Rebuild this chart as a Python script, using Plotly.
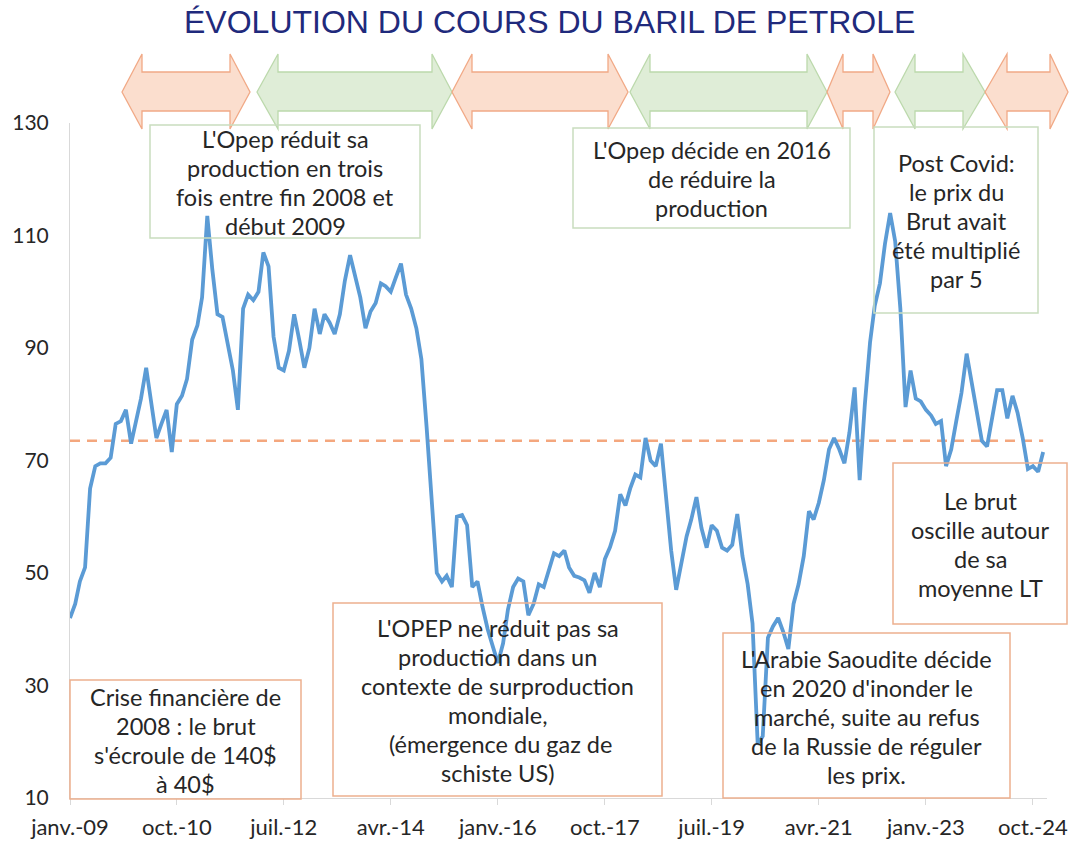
import plotly.graph_objects as go
import pandas as pd

# ---------------- DATA ----------------
price_2009 = [42, 44.5, 48.5, 51, 65, 69, 69.5, 69.5, 70.5, 76.5, 77, 79]
price_2010 = [73, 77, 81, 86.5, 80, 74, 76.5, 79, 71.5, 80, 81.5, 84.5]
price_2011 = [91.5, 94, 99, 113.5, 104, 96, 95.5, 91, 86, 79, 97, 99.5]
price_2012 = [98.5, 100, 107, 104.5, 92, 86.5, 86, 89.5, 96, 91.5, 86.5, 90]
price_2013 = [97, 92.5, 96, 94.5, 92.5, 96, 102, 106.5, 103, 99, 93.5, 96.5]
price_2014 = [98, 101.5, 101, 100, 102.5, 105, 99.5, 97, 93.5, 88, 76, 62]
price_2015 = [50, 48.5, 49.5, 47.5, 60, 60.3, 58.5, 47.5, 48.5, 44, 40, 37]
price_2016 = [34, 37.5, 43.5, 47.5, 49, 48.5, 42.5, 44.5, 48, 47.5, 50.5, 53.5]
price_2017 = [53, 54, 51, 49.5, 49.2, 48.7, 46.5, 50, 47.5, 52.5, 54.6, 57.5]
price_2018 = [64, 62, 65, 67.5, 67, 74, 70, 69, 73, 64, 54, 47]
price_2019 = [51.5, 56.5, 59.5, 63.5, 58, 54.5, 58.5, 57.5, 54.5, 54, 55, 60.5]
price_2020 = [53, 48, 41, 19.5, 21, 38.5, 40.5, 42, 39.5, 36.5, 44.5, 48]
price_2021 = [53, 61, 59.5, 62.5, 66.5, 72, 74, 72, 69.5, 75, 83, 66.5]
price_2022 = [80, 91, 97.5, 101.5, 108.5, 114, 109, 97, 79.5, 86, 81, 80.5]
price_2023 = [79, 78, 76.5, 77, 69, 72, 77, 82, 89, 84, 78, 73.5]
price_2024 = [72.5, 77.5, 82.5, 82.5, 77.5, 81.5, 78.5, 74, 68.5, 69, 68, 71.5]

prices = (price_2009 + price_2010 + price_2011 + price_2012 + price_2013 + price_2014
          + price_2015 + price_2016 + price_2017 + price_2018 + price_2019 + price_2020
          + price_2021 + price_2022 + price_2023 + price_2024)
months = pd.date_range("2009-01-01", periods=len(prices), freq="MS")

mean_price = 73.5

tick_dates = ["2009-01-01", "2010-10-01", "2012-07-01", "2014-04-01", "2016-01-01",
              "2017-10-01", "2019-07-01", "2021-04-01", "2023-01-01", "2024-10-01"]
tick_labels = ["janv.-09", "oct.-10", "juil.-12", "avr.-14", "janv.-16",
               "oct.-17", "juil.-19", "avr.-21", "janv.-23", "oct.-24"]
y_ticks = [10, 30, 50, 70, 90, 110, 130]

title_text = "ÉVOLUTION DU COURS DU BARIL DE PETROLE"

notes = [
    ["L'Opep réduit sa", "production en trois", "fois entre fin 2008 et", "début 2009"],
    ["L'Opep décide en 2016", "de réduire la", "production"],
    ["Post Covid:", "le prix du", "Brut avait", "été multiplié", "par 5"],
    ["Crise financière de", "2008 : le brut", "s'écroule de 140$", "à 40$"],
    ["L'OPEP ne réduit pas sa", "production dans un", "contexte de surproduction",
     "mondiale,", " (émergence du gaz de", "schiste US)"],
    ["L'Arabie Saoudite décide", "en 2020 d'inonder le", "marché, suite au refus",
     "de la Russie de réguler", "les prix."],
    ["Le brut", "oscille autour", "de sa", "moyenne LT"],
]
note_kind = ["green", "green", "green", "orange", "orange", "orange", "orange"]
arrow_kind = ["orange", "green", "orange", "green", "orange", "green", "orange"]

# ---------------- LAYOUT HELPERS ----------------
W, H = 1075, 846
PL, PR, PT, PB = 70, 1047, 123, 798


def px(x):
    return (x - PL) / (PR - PL)


def py(y):
    return (PB - y) / (PB - PT)


ORANGE_LINE = "#F1A986"
ORANGE_FILL = "rgba(249,205,180,0.65)"
GREEN_LINE = "#BCD9AC"
GREEN_FILL = "rgba(206,228,193,0.65)"
BOX_ORANGE = "#EDB08E"
BOX_GREEN = "#C9DDBE"
TEXT_COL = "#262626"
FONT = "Lato"
NOTE_SIZE = 23.5
LINE_GAP = 29

# note boxes (pixel rectangles: left, top, right, bottom)
box_px = [
    (150, 125, 420, 238),
    (573, 128, 850, 228),
    (874, 127, 1038, 313),
    (70, 680, 301, 799),
    (333, 603, 662, 796),
    (723, 633, 1010, 798),
    (893, 463, 1067, 624),
]

# arrows (pixel: left tip, left head base, right head base, right tip)
arrow_px = [
    (122, 142, 230, 250),
    (257, 278, 432, 452),
    (452, 472, 608, 628),
    (630, 650, 807, 827),
    (827, 843, 873, 890),
    (895, 915, 963, 985),
    (985, 1007, 1050, 1068),
]
A_HEAD_T, A_BODY_T, A_MID, A_BODY_B, A_HEAD_B = 54, 72, 92, 111, 129

fig = go.Figure()

fig.add_trace(go.Scatter(
    x=months, y=prices, mode="lines",
    line=dict(color="#5B9BD5", width=3.8),
    hoverinfo="skip", showlegend=False,
))

shapes = []
# dashed long-term mean
shapes.append(dict(type="line", xref="x", yref="y",
                   x0=months[0], x1=months[-1], y0=mean_price, y1=mean_price,
                   line=dict(color="#F4A77E", width=2.6, dash="10px,7px"),
                   layer="below"))

# arrows
for (xl, xlb, xrb, xr), kind in zip(arrow_px, arrow_kind):
    pts = [(xl, A_MID), (xlb, A_HEAD_T), (xlb, A_BODY_T), (xrb, A_BODY_T), (xrb, A_HEAD_T),
           (xr, A_MID), (xrb, A_HEAD_B), (xrb, A_BODY_B), (xlb, A_BODY_B), (xlb, A_HEAD_B)]
    path = "M " + " L ".join(f"{px(a):.5f},{py(b):.5f}" for a, b in pts) + " Z"
    shapes.append(dict(type="path", xref="paper", yref="paper", path=path,
                       fillcolor=ORANGE_FILL if kind == "orange" else GREEN_FILL,
                       line=dict(color=ORANGE_LINE if kind == "orange" else GREEN_LINE, width=1.3),
                       layer="above"))

annotations = []
for (l, t, r, b), lines, kind in zip(box_px, notes, note_kind):
    shapes.append(dict(type="rect", xref="paper", yref="paper",
                       x0=px(l), x1=px(r), y0=py(b), y1=py(t),
                       line=dict(color=BOX_ORANGE if kind == "orange" else BOX_GREEN, width=1.5),
                       fillcolor="rgba(0,0,0,0)", layer="above"))
    cy = (t + b) / 2 + 1
    n = len(lines)
    for i, line_txt in enumerate(lines):
        annotations.append(dict(xref="paper", yref="paper",
                                x=px((l + r) / 2), y=py(cy + (i - (n - 1) / 2) * LINE_GAP),
                                xanchor="center", yanchor="middle",
                                text=line_txt, showarrow=False, align="center",
                                font=dict(family=FONT, size=NOTE_SIZE, color=TEXT_COL)))

annotations.append(dict(xref="paper", yref="paper", x=px(549), y=py(22),
                        xanchor="center", yanchor="middle", text=title_text, showarrow=False,
                        font=dict(family="Liberation Sans, Arial", size=32, color="#1F2A7C")))

fig.update_layout(
    width=W, height=H, autosize=False,
    margin=dict(l=PL, r=W - PR, t=PT, b=H - PB, autoexpand=False),
    paper_bgcolor="white", plot_bgcolor="white",
    shapes=shapes, annotations=annotations,
    showlegend=False,
    xaxis=dict(type="date", range=["2009-01-01", "2024-12-24"], automargin=False,
               tickvals=tick_dates, ticktext=tick_labels,
               showgrid=False, zeroline=False, showline=True, linecolor="#D9D9D9", linewidth=1,
               ticks="outside", ticklen=6, tickcolor="#D9D9D9", ticklabelstandoff=4,
               tickfont=dict(family=FONT, size=22, color=TEXT_COL)),
    yaxis=dict(range=[10, 130], tickvals=y_ticks, ticktext=[str(v) for v in y_ticks],
               automargin=False,
               showgrid=False, zeroline=False, showline=True, linecolor="#D9D9D9", linewidth=1,
               ticks="", ticklabelstandoff=16,
               tickfont=dict(family=FONT, size=21, color=TEXT_COL)),
)

fig.write_html("out.html", config={"displayModeBar": False},
               post_script="document.body.style.margin='0px';")
